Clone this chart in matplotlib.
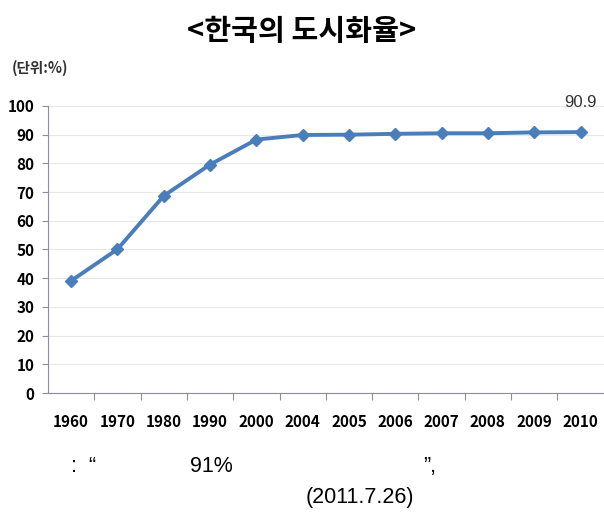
import matplotlib.pyplot as plt

plt.rcParams['font.family'] = ['Noto Sans CJK KR', 'DejaVu Sans']

years = ['1960', '1970', '1980', '1990', '2000', '2004', '2005',
         '2006', '2007', '2008', '2009', '2010']
rates = [39.1, 50.1, 68.7, 79.6, 88.3, 89.9, 90.0, 90.3, 90.5, 90.5, 90.8, 90.9]
yticks = list(range(0, 101, 10))

fig = plt.figure(figsize=(6.04, 5.14), dpi=100)
ax = fig.add_axes([0.0795, 0.2354, 0.92, 0.5584])

x = list(range(len(years)))
ax.plot(x, rates, color='#4A7EBB', lw=2.8, marker='D', ms=6.5, mec='#4A7EBB', mfc='#4A7EBB', zorder=3)
ax.annotate('90.9', (x[-1], rates[-1]), xytext=(0, 16), textcoords='offset points',
            ha='center', va='bottom', fontsize=12, color='#333333', family='Liberation Sans')

ax.set_xlim(-0.5, len(years) - 0.5)
ax.set_ylim(0, 100)
ax.set_yticks(yticks)
ax.set_yticklabels([str(v) for v in yticks], fontsize=11, fontweight='bold')
ax.set_xticks([i - 0.5 for i in range(1, len(years))])
ax.set_xticklabels([])
ax.set_xticks(x, minor=True)
ax.set_xticklabels(years, minor=True, fontsize=11, fontweight='bold')
ax.tick_params(axis='x', which='minor', length=0, pad=15)
ax.tick_params(axis='x', which='major', length=5, color='#8C8C9C', direction='out')
ax.tick_params(axis='y', length=4, color='#8C8C9C', direction='out', pad=6)
ax.grid(axis='y', color='#E8E8E8', lw=0.8)
ax.set_axisbelow(True)
for s in ['top', 'right']:
    ax.spines[s].set_visible(False)
ax.spines['left'].set_color('#8C8C9C')
ax.spines['bottom'].set_color('#8C8C9C')

fig.text(0.5, 0.94, '<한국의 도시화율>', ha='center', va='center', fontsize=21, fontweight='bold')
fig.text(0.02, 0.868, '(단위:%)', ha='left', va='center', fontsize=10.5, fontweight='bold', color='#333333')

fig.text(0.118, 0.092, ':  \u201c', ha='left', va='center', fontsize=15.5, family='Liberation Sans')
fig.text(0.315, 0.092, '91%', ha='left', va='center', fontsize=15.5, family='Liberation Sans')
fig.text(0.700, 0.092, '\u201d,', ha='left', va='center', fontsize=15.5, family='Liberation Sans')
fig.text(0.595, 0.033, '(2011.7.26)', ha='center', va='center', fontsize=15.5, family='Liberation Sans')

fig.savefig('out.png', dpi=100)
